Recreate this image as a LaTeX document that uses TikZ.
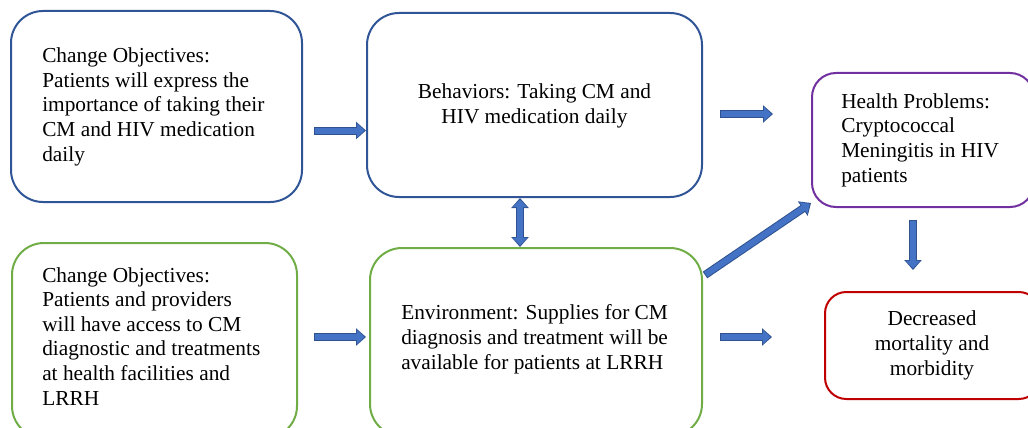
\documentclass[tikz,border=0pt]{standalone}
\usepackage{fontspec}
\setmainfont{Liberation Serif}
\usetikzlibrary{fit,calc,arrows.meta}

\definecolor{boxblue}{HTML}{2F5597}
\definecolor{boxgreen}{HTML}{70AD47}
\definecolor{boxpurple}{HTML}{7030A0}
\definecolor{boxred}{HTML}{C00000}
\definecolor{arrowfill}{HTML}{4472C4}
\definecolor{arrowedge}{HTML}{2F528F}

\begin{document}
\begin{tikzpicture}[x=0.75pt,y=-0.75pt,
  frame/.style={draw=#1, line width=1.5pt, inner sep=0pt, rounded corners=24pt},
  % multi-line texts are placed by the baseline of their last line
  txt/.style={font=\fontsize{16}{18.4}\selectfont, inner sep=0pt, align=left, anchor=base west},
  ctxt/.style={font=\fontsize{16}{18.4}\selectfont, inner sep=0pt, align=center, anchor=base},
  blk/.style={draw=arrowfill, line width=4.5pt,
    -{Triangle[length=5.7pt,width=10.2pt]}, shorten >=1.1pt, shorten <=0.75pt,
    preaction={draw=arrowedge, line width=6pt,
      -{Triangle[length=7.5pt,width=12.75pt]}, shorten >=0pt, shorten <=0pt}},
  blkboth/.style={draw=arrowfill, line width=4.5pt,
    {Triangle[length=5.7pt,width=10.2pt]}-{Triangle[length=5.7pt,width=10.2pt]},
    shorten >=1.1pt, shorten <=1.1pt,
    preaction={draw=arrowedge, line width=6pt,
      {Triangle[length=7.5pt,width=12.75pt]}-{Triangle[length=7.5pt,width=12.75pt]},
      shorten >=0pt, shorten <=0pt}},
]
\useasboundingbox (0,0) rectangle (1028,428);
\clip (0,0) rectangle (1028,428);

% boxes
\node[frame=boxblue, fit={(11,11) (302,202)}] (b1) {};
\node[frame=boxblue, fit={(367,13) (702,197)}] (b2) {};
\node[frame=boxpurple, rounded corners=18pt, fit={(812,73) (1034,207)}] (b3) {};
\node[frame=boxgreen, fit={(12,243) (297,438)}] (b4) {};
\node[frame=boxgreen, fit={(370,248) (702,436)}] (b5) {};
\node[frame=boxred, rounded corners=16pt, fit={(825,292) (1040,399)}] (b6) {};

% texts
\node[txt] (t1) at (42,161) {Change Objectives:\\Patients will express the\\importance of taking their\\CM and HIV medication\\daily};
\node[ctxt] (t2) at (534.5,123) {Behaviors: Taking CM and\\HIV medication daily};
\node[txt] (t3) at (841,182) {Health Problems:\\Cryptococcal\\Meningitis in HIV\\patients};
\node[txt] (t4) at (42,405) {Change Objectives:\\Patients and providers\\will have access to CM\\diagnostic and treatments\\at health facilities and\\LRRH};
\node[txt] (t5) at (401,369) {Environment: Supplies for CM\\diagnosis and treatment will be\\available for patients at LRRH};
\node[ctxt] (t6) at (932,375) {Decreased\\mortality and\\morbidity};

% arrows
\coordinate (a1) at ($(b1.east)+(11,24)$);
\draw[blk] (a1) -- (a1 -| b2.west);

\coordinate (a2) at ($(b4.east)+(16,-3.5)$);
\coordinate (a2e) at ($(a2 -| b5.west)+(-3,0)$);
\draw[blk] (a2) -- (a2e);

\coordinate (a3) at ($(b2.east)+(17,9)$);
\coordinate (a3e) at ($(a3 -| b3.west)+(-38,0)$);
\draw[blk] (a3) -- (a3e);

\coordinate (a4) at ($(b5.east)+(17,-5)$);
\coordinate (a4e) at ($(a4 -| b6.west)+(-52,0)$);
\draw[blk] (a4) -- (a4e);

\coordinate (v) at (520,0);
\draw[blkboth] (v |- b2.south) -- (v |- b5.north);

\coordinate (dg) at ($(b5.north east)+(2,28)$);
\coordinate (dge) at ($(b3.south west)+(0,-5)$);
\draw[blk] (dg) -- (dge);

\coordinate (d1) at ($(b3.south)+(-10,12)$);
\coordinate (d1e) at ($(b6.north -| d1)+(0,-21)$);
\draw[blk] (d1) -- (d1e);
\end{tikzpicture}
\end{document}
